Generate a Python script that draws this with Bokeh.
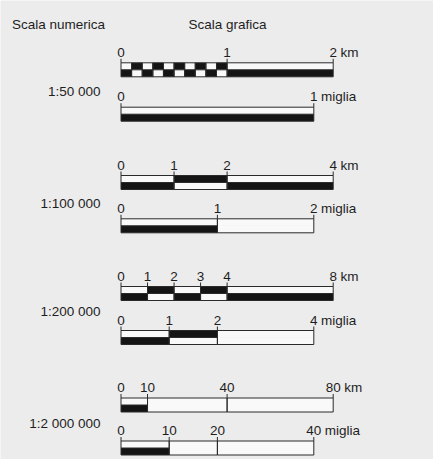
from bokeh.plotting import figure
from bokeh.models import Range1d
from bokeh.embed import file_html
from bokeh.resources import INLINE
from bokeh.core.properties import value

# ---------------- data ----------------
header_left = "Scala numerica"
header_right = "Scala grafica"
scale_labels = ["1:50 000", "1:100 000", "1:200 000", "1:2 000 000"]

km_unit = "km"
km_lengths = [2, 4, 8, 80]
km_ticks = [[0, 1, 2], [0, 1, 2, 4], [0, 1, 2, 3, 4, 8], [0, 10, 40, 80]]

mi_unit = "miglia"
mi_lengths = [1, 2, 4, 40]
mi_ticks = [[0, 1], [0, 1, 2], [0, 1, 2, 4], [0, 10, 20, 40]]

# segments: (start, end, upper_black, lower_black); both 0 -> single open box
checker = [(i / 10, (i + 1) / 10, i % 2, 1 - i % 2) for i in range(10)]
km_segments = [
    checker + [(1, 2, 0, 1)],
    [(0, 1, 0, 1), (1, 2, 1, 0), (2, 4, 0, 1)],
    [(0, 1, 0, 1), (1, 2, 1, 0), (2, 3, 0, 1), (3, 4, 1, 0), (4, 8, 0, 1)],
    [(0, 10, 0, 1), (10, 40, 0, 0), (40, 80, 0, 0)],
]
mi_segments = [
    [(0, 1, 0, 1)],
    [(0, 1, 0, 1), (1, 2, 0, 0)],
    [(0, 1, 0, 1), (1, 2, 1, 0), (2, 4, 0, 0)],
    [(0, 10, 0, 1), (10, 20, 0, 0), (20, 40, 0, 0)],
]

# ---------------- layout (reference pixel space) ----------------
W, H = 433, 459
LEFT, RIGHT, TOP, BOTTOM = 0, W, 0, H
BAR_X0 = 120.5
KM_X1 = 332.7
MI_X1 = 313.3
BAR_H = 14
TICK_H = 4
LABEL_GAP = 10.5
row_km_top = [62.3, 175.0, 286.0, 397.5]
row_mi_top = [106.7, 218.3, 330.0, 440.5]
row_label_y = [91.0, 202.7, 310.7, 423.3]
HEADER_Y = 24
HEADER_LEFT_X = 11.5
HEADER_RIGHT_X = 188
SCALE_LABEL_X = 100

FONT = value("Liberation Sans")
FSIZE = "13.5px"
TXT = "#1e1e1e"
INK = "#141414"
LINE = "#2a2a2a"
PAPER = "#f9f9f9"
BG = "#ececec"

p = figure(width=W, height=H, x_range=Range1d(LEFT, RIGHT),
           y_range=Range1d(BOTTOM, TOP), output_backend="svg",
           toolbar_location=None, min_border=0,
           x_axis_location=None, y_axis_location=None)
p.grid.visible = False
p.outline_line_color = None
p.background_fill_color = BG
p.border_fill_color = BG

# headers
p.text(x=[HEADER_LEFT_X, HEADER_RIGHT_X], y=[HEADER_Y, HEADER_Y],
       text=[header_left, header_right], text_font=FONT, text_font_size=FSIZE,
       text_color=TXT, text_align="left", text_baseline="middle")

# numeric scale labels
p.text(x=[SCALE_LABEL_X] * len(scale_labels), y=row_label_y, text=scale_labels,
       text_font=FONT, text_font_size=FSIZE, text_color=TXT,
       text_align="right", text_baseline="middle")


def draw_bar(name, length, x1, top, ticks, segments, unit):
    ppu = (x1 - BAR_X0) / length
    p.extra_x_ranges[name] = Range1d(start=-(BAR_X0 - LEFT) / ppu,
                                     end=length + (RIGHT - x1) / ppu)
    bottom = top + BAR_H
    mid = top + BAR_H / 2
    # fills
    ls, rs, tops, bots, cols = [], [], [], [], []
    for (s, e, up, lo) in segments:
        ls += [s, s]
        rs += [e, e]
        tops += [top, mid]
        bots += [mid, bottom]
        cols += [INK if up else PAPER, INK if lo else PAPER]
    p.quad(left=ls, right=rs, top=tops, bottom=bots, fill_color=cols,
           line_color=None, x_range_name=name)
    # outlines
    p.quad(left=[s for s, e, u, l in segments], right=[e for s, e, u, l in segments],
           top=[top] * len(segments), bottom=[bottom] * len(segments),
           fill_color=None, line_color=LINE, line_width=1, x_range_name=name)
    split = [(s, e) for s, e, u, l in segments if u or l]
    if split:
        p.segment(x0=[s for s, e in split], x1=[e for s, e in split],
                  y0=[mid] * len(split), y1=[mid] * len(split),
                  line_color=LINE, line_width=1, x_range_name=name)
    # ticks
    p.segment(x0=ticks, x1=ticks, y0=[top - TICK_H] * len(ticks),
              y1=[top] * len(ticks), line_color=LINE, line_width=1,
              x_range_name=name)
    # tick labels
    label_y = top - LABEL_GAP
    p.text(x=ticks, y=[label_y] * len(ticks), text=[str(t) for t in ticks],
           text_font=FONT, text_font_size=FSIZE, text_color=TXT,
           text_align="center", text_baseline="middle", x_range_name=name)
    last = ticks[-1]
    p.text(x=[last], y=[label_y], text=[unit], x_offset=len(str(last)) * 3.75 + 3.5,
           text_font=FONT, text_font_size=FSIZE, text_color=TXT,
           text_align="left", text_baseline="middle", x_range_name=name)


for i in range(len(scale_labels)):
    draw_bar(f"km{i}", km_lengths[i], KM_X1, row_km_top[i], km_ticks[i],
             km_segments[i], km_unit)
    draw_bar(f"mi{i}", mi_lengths[i], MI_X1, row_mi_top[i], mi_ticks[i],
             mi_segments[i], mi_unit)

open("out.html", "w").write(file_html(p, INLINE))
